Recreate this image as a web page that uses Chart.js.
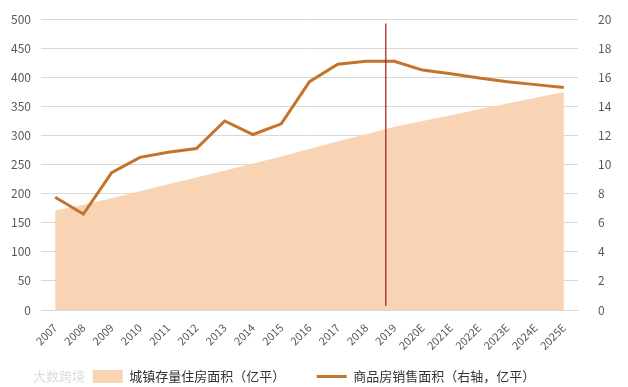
<!DOCTYPE html>
<html>
<head>
<meta charset="utf-8">
<script src="https://cdn.jsdelivr.net/npm/chart.js@4"></script>
<style>
  body { margin: 0; background: #fff; }
  #wrap { width: 628px; height: 387px; position: relative; }
</style>
</head>
<body>
<div id="wrap"><canvas id="chart" width="628" height="387"></canvas></div>
<script>
// categories and series
const years = ["2007","2008","2009","2010","2011","2012","2013","2014","2015","2016",
  "2017","2018","2019","2020E","2021E","2022E","2023E","2024E","2025E"]
const stockArea = [171,181,192,204,216,228,240,252,264,277,290,302,315,325,335,345,355,365,375]
const salesArea = [7.75,6.6,9.45,10.5,10.85,11.1,13.0,12.07,12.8,15.7,16.9,17.1,17.1,16.5,16.25,15.95,15.7,15.5,15.3]
const leftTicks = [0,50,100,150,200,250,300,350,400,450,500]
const rightTicks = [0,2,4,6,8,10,12,14,16,18,20]
// marker line: category position and right-axis range
const markerAt = [11.7]
const markerRange = [0.3, 19.7]

const fontFam = "'Noto Sans CJK SC', 'Noto Sans', sans-serif"
const tickColor = '#595959'
const gridColor = '#d9d9d9'

const markerLine = {
    id: 'markerLine',
    afterDatasetsDraw(chart) {
        const x = chart.scales.x.getPixelForValue(markerAt[0])
        const yR = chart.scales.yR
        const ctx = chart.ctx
        ctx.save()
        ctx.strokeStyle = '#a31515'
        ctx.lineWidth = 1.2
        ctx.beginPath()
        ctx.moveTo(x, yR.getPixelForValue(markerRange[1]))
        ctx.lineTo(x, yR.getPixelForValue(markerRange[0]))
        ctx.stroke()
        // faint watermark
        ctx.fillStyle = 'rgba(190,190,190,0.55)'
        ctx.font = "13px " + fontFam
        ctx.textBaseline = 'middle'
        ctx.fillText('大数跨境', 33, chart.height - 11)
        ctx.restore()
    }
}

new Chart(document.getElementById('chart'), {
    type: 'line',
    data: {
        labels: years,
        datasets: [
            {
                label: '城镇存量住房面积（亿平）\u3000\u3000',
                data: stockArea,
                yAxisID: 'y',
                fill: 'origin',
                backgroundColor: '#f9d4b4',
                borderColor: '#f9d4b4',
                borderWidth: 0,
                pointRadius: 0,
                tension: 0,
                order: 2,
                pointStyle: 'rect'
            },
            {
                label: '商品房销售面积（右轴，亿平）',
                data: salesArea,
                yAxisID: 'yR',
                fill: false,
                borderColor: '#c5732b',
                backgroundColor: '#c5732b',
                borderWidth: 3,
                pointRadius: 0,
                tension: 0,
                order: 1,
                pointStyle: 'line'
            }
        ]
    },
    options: {
        responsive: false,
        animation: false,
        layout: { padding: { top: 14, right: 0, left: 0, bottom: -6 } },
        plugins: {
            legend: {
                position: 'bottom',
                labels: {
                    usePointStyle: true,
                    pointStyleWidth: 30,
                    boxHeight: 13,
                    padding: 12,
                    color: '#333',
                    font: { family: fontFam, size: 13 },
                    sort: (a, b) => a.datasetIndex - b.datasetIndex
                }
            },
            tooltip: { enabled: false }
        },
        scales: {
            x: {
                offset: true,
                grid: { display: false },
                border: { color: gridColor },
                ticks: {
                    color: tickColor,
                    font: { family: fontFam, size: 11 },
                    maxRotation: 45, minRotation: 45,
                    autoSkip: false
                },
                afterFit(s) { s.height = 48 }
            },
            y: {
                position: 'left',
                min: 0, max: 500,
                afterBuildTicks(s) { s.ticks = leftTicks.map(v => ({ value: v })) },
                grid: { color: gridColor, drawTicks: false },
                border: { display: false },
                ticks: { color: tickColor, font: { family: fontFam, size: 12 }, padding: 10 },
                afterFit(s) { s.width = 41 }
            },
            yR: {
                position: 'right',
                min: 0, max: 20,
                afterBuildTicks(s) { s.ticks = rightTicks.map(v => ({ value: v })) },
                grid: { display: false },
                border: { display: false },
                ticks: { color: tickColor, font: { family: fontFam, size: 12 }, padding: 12 },
                afterFit(s) { s.width = 50 }
            }
        }
    },
    plugins: [markerLine]
})
</script>
</body>
</html>
